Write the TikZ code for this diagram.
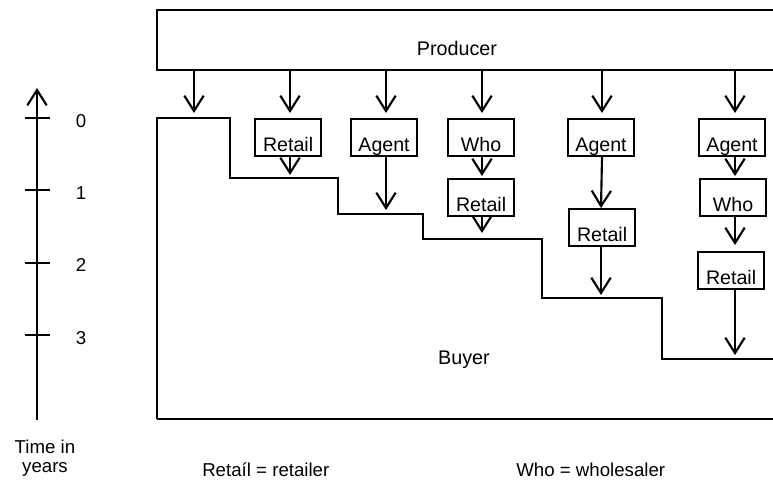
\documentclass[tikz,border=0pt]{standalone}
\usepackage{fontspec}
\setmainfont{Liberation Sans}
\usetikzlibrary{arrows.meta}
\begin{document}
\begin{tikzpicture}[x=0.75pt,y=-0.75pt,
  lw/.style={line width=1.6pt},
  arr/.style={lw,-{Straight Barb[length=11.5pt,width=14.5pt,line width=1.6pt]}},
  cbox/.style={draw,lw,inner sep=0pt,anchor=north west,minimum width=49.5pt,
    text height=24pt,text depth=3.75pt,font=\fontsize{14.7pt}{18pt}\selectfont},
  big/.style={inner sep=0pt,anchor=base,font=\fontsize{14.8pt}{18pt}\selectfont},
  lbl/.style={inner sep=0pt,font=\fontsize{14pt}{15pt}\selectfont}]
\useasboundingbox (0,0) rectangle (773,487);
% Producer
\draw[lw] (773,10) -- (157,10) -- (157,70) -- (773,70);
\node[big] (prod) at (457,55) {Producer};
\coordinate (pb) at (157,70);
% Buyer region
\draw[lw] (157,419) -- (157,118) -- (230,118) -- (230,178) -- (338,178) -- (338,214)
  -- (423,214) -- (423,239) -- (542,239) -- (542,298) -- (662,298) -- (662,359) -- (773,359);
\draw[lw] (157,419) -- (773,419);
\node[big] (buyer) at (464,364) {Buyer};
% boxes
\node[cbox] (R1) at (254,118) {Retail};
\node[cbox] (A1) at (350,118) {Agent};
\node[cbox] (W1) at (447,118) {Who};
\node[cbox] (R2) at (447,178) {Retail};
\node[cbox] (A2) at (567,118) {Agent};
\node[cbox] (R3) at (568,208) {Retail};
\node[cbox] (A3) at (698,118) {Agent};
\node[cbox] (W2) at (699,178) {Who};
\node[cbox] (R4) at (697,251) {Retail};
% column coordinates / arrow tips
\coordinate (b0) at (194,113);
\coordinate (c1) at (290,113);
\coordinate (c2) at (386,113);
\coordinate (c3) at (482,113);
\coordinate (c4) at (602,113);
\coordinate (c5) at (735,113);
\draw[arr] (pb -| b0) -- (b0);
\draw[arr] (pb -| c1) -- (c1);
\draw[arr] (pb -| c2) -- (c2);
\draw[arr] (pb -| c3) -- (c3);
\draw[arr] (pb -| c4) -- (c4);
\draw[arr] (pb -| c5) -- (c5);
\coordinate (t1) at (290,175);
\coordinate (t2) at (386,210);
\coordinate (t5) at (482,233);
\coordinate (t6) at (601,295);
\coordinate (t9) at (735,355);
\draw[arr] (R1.south -| t1) -- (t1);
\draw[arr] (A1.south -| t2) -- (t2);
\draw[arr] (W1.south -| c3) -- ([yshift=1.5pt]R2.north -| c3);
\draw[arr] (R2.south -| t5) -- (t5);
\draw[arr] (A2.south -| c4) -- (R3.north -| t6);
\draw[arr] (R3.south -| t6) -- (t6);
\draw[arr] (A3.south -| c5) -- ([yshift=1.5pt]W2.north -| c5);
\draw[arr] (W2.south -| c5) -- ([yshift=4.5pt]R4.north -| c5);
\draw[arr] (R4.south -| t9) -- (t9);
% time axis
\coordinate (ax0) at (37,420);
\coordinate (ax1) at (37,88);
\draw[arr] (ax0) -- (ax1);
\draw[lw] (25,118) -- (50,118);
\draw[lw] (25,190) -- (50,190);
\draw[lw] (25,263) -- (50,263);
\draw[lw] (25,335) -- (50,335);
\node[lbl] (y0) at (81,121) {0};
\node[lbl] (y1) at (81,193) {1};
\node[lbl] (y2) at (81,265) {2};
\node[lbl] (y3) at (81,338) {3};
\node[lbl,anchor=base] (tl1) at (45,453) {Time in};
\node[lbl,anchor=base] (tl2) at (45,472) {years};
% legend
\node[lbl,anchor=base west] (lg1) at (202,476) {Retaíl = retailer};
\node[lbl,anchor=base west] (lg2) at (516,476) {Who = wholesaler};
\end{tikzpicture}
\end{document}
